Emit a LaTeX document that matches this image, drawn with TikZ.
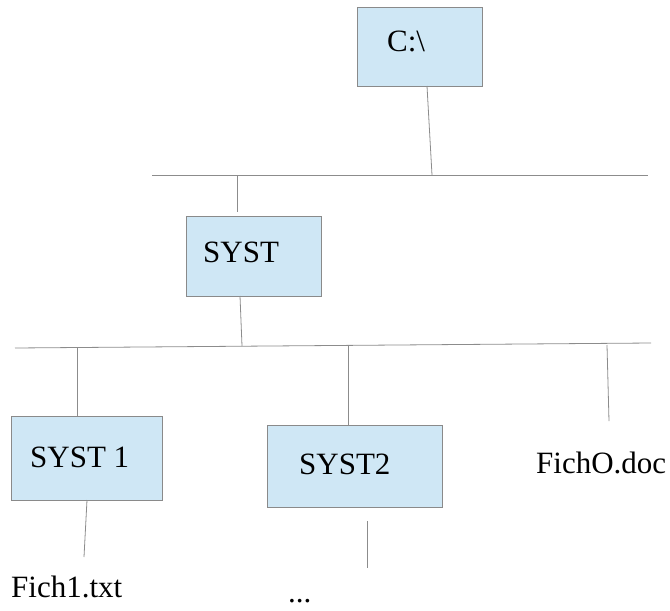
\documentclass[tikz,border=0pt]{standalone}
\usepackage{fontspec}
\setmainfont{Liberation Serif}
\definecolor{boxblue}{HTML}{CFE7F5}
\definecolor{boxgray}{HTML}{8A8A8A}
\definecolor{linegray}{HTML}{8C8C8C}
\begin{document}
\begin{tikzpicture}[x=1pt,y=-1pt,
  box/.style={draw=boxgray, fill=boxblue, line width=0.9pt, anchor=north west, inner sep=0pt},
  lbl/.style={anchor=base west, inner sep=0pt, font=\fontsize{31}{36}\selectfont},
  wire/.style={draw=linegray, line width=0.8pt}]
\useasboundingbox (0,0) rectangle (670,611);
% boxes
\node[box, minimum width=125pt, minimum height=79pt] (root) at (357,7) {};
\node[box, minimum width=135pt, minimum height=80pt] (syst) at (186,216) {};
\node[box, minimum width=151pt, minimum height=84pt] (syst1) at (11,416) {};
\node[box, minimum width=175pt, minimum height=82pt] (syst2) at (267,425) {};
% labels
\node[lbl] (lroot) at (387,51) {C:\textbackslash};
\node[lbl] (lsyst) at (203,262) {SYST};
\node[lbl] (lsyst1) at (30,467) {SYST 1};
\node[lbl] (lsyst2) at (299,474) {SYST2};
\node[lbl] (lfich0) at (536,473) {FichO.doc};
\node[lbl] (lfich1) at (11,597) {Fich1.txt};
\node[lbl] (ldots) at (288,602) {...};
% coordinates
\coordinate (busAl) at (152,175);
\coordinate (busAr) at (648,175);
\coordinate (rootb) at (427,86);
\coordinate (rootj) at (432,175);
\coordinate (systj) at (237,175);
\coordinate (systt) at (237,212);
\coordinate (systb) at (240,296);
\coordinate (systk) at (242,346);
\coordinate (busBl) at (15,348);
\coordinate (busBr) at (651,343);
\coordinate (s1j) at (77,348);
\coordinate (s1t) at (77,416);
\coordinate (s2j) at (348,346);
\coordinate (s2t) at (348,425);
\coordinate (f0j) at (607,345);
\coordinate (f0e) at (609,421);
\coordinate (s1b) at (87,500);
\coordinate (f1e) at (84,557);
\coordinate (dts) at (367,521);
\coordinate (dte) at (367,568);
% wires
\draw[wire] (busAl) -- (busAr);
\draw[wire] (rootb) -- (rootj);
\draw[wire] (systj) -- (systt);
\draw[wire] (systb) -- (systk);
\draw[wire] (busBl) -- (busBr);
\draw[wire] (s1j) -- (s1t);
\draw[wire] (s2j) -- (s2t);
\draw[wire] (f0j) -- (f0e);
\draw[wire] (s1b) -- (f1e);
\draw[wire] (dts) -- (dte);
\end{tikzpicture}
\end{document}
